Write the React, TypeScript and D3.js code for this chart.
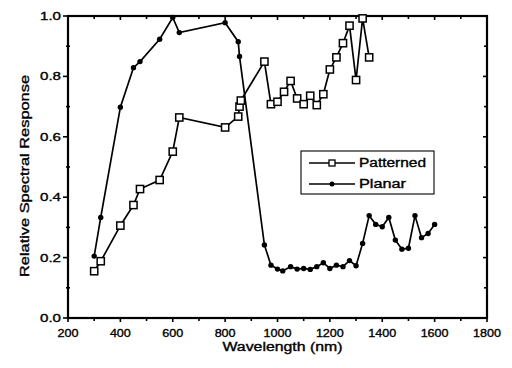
import React from "react";
import * as d3 from "d3";

const planarX = [300, 325, 400, 450, 475, 550, 600, 625, 800, 850, 855, 950, 975, 1000, 1020, 1050, 1075, 1100, 1125, 1150, 1175, 1200, 1225, 1250, 1275, 1300, 1325, 1350, 1375, 1400, 1425, 1450, 1475, 1500, 1525, 1550, 1575, 1600];
const planarY = [0.205, 0.333, 0.698, 0.829, 0.849, 0.923, 0.995, 0.945, 0.978, 0.915, 0.866, 0.242, 0.175, 0.162, 0.156, 0.17, 0.162, 0.164, 0.161, 0.17, 0.183, 0.164, 0.175, 0.17, 0.19, 0.173, 0.247, 0.339, 0.31, 0.302, 0.333, 0.258, 0.228, 0.231, 0.339, 0.266, 0.28, 0.31];

const patternedX = [300, 325, 400, 450, 475, 550, 600, 625, 800, 850, 855, 860, 950, 975, 1000, 1025, 1050, 1075, 1100, 1125, 1150, 1175, 1200, 1225, 1250, 1275, 1300, 1325, 1350];
const patternedY = [0.155, 0.188, 0.306, 0.374, 0.427, 0.457, 0.551, 0.664, 0.631, 0.667, 0.7, 0.72, 0.849, 0.708, 0.716, 0.749, 0.785, 0.727, 0.708, 0.736, 0.705, 0.741, 0.823, 0.863, 0.91, 0.968, 0.788, 0.992, 0.863];

const xTicks = [200, 400, 600, 800, 1000, 1200, 1400, 1600, 1800];
const xMinor = [300, 500, 700, 900, 1100, 1300, 1500, 1700];
const yTicks = [0.0, 0.2, 0.4, 0.6, 0.8, 1.0];
const yMinor = [0.1, 0.3, 0.5, 0.7, 0.9];

const seriesNames = ["Patterned", "Planar"];

const FONT = "'Liberation Sans', Arial, sans-serif";
const TS = { stroke: "#000", strokeWidth: 0.35 };

export default function App() {
  const W = 512, H = 368;
  const L = 68, R = 487, T = 16, B = 318;
  const x = d3.scaleLinear().domain([200, 1800]).range([L, R]);
  const y = d3.scaleLinear().domain([0, 1]).range([B, T]);
  const line = d3.line<[number, number]>().x(d => x(d[0])).y(d => y(d[1]));
  const planar: [number, number][] = planarX.map((v, i) => [v, planarY[i]]);
  const patterned: [number, number][] = patternedX.map((v, i) => [v, patternedY[i]]);
  const fmtY = (v: number) => v.toFixed(1);

  return (
    <svg width={W} height={H} style={{ position: "absolute", left: 0, top: 0, background: "#fff" }}>
      <rect x={0} y={0} width={W} height={H} fill="#fff" />
      <rect x={L} y={T} width={R - L} height={B - T} fill="none" stroke="#000" strokeWidth={2.2} />
      {xTicks.map(t => (
        <g key={"xt" + t}>
          <line x1={x(t)} x2={x(t)} y1={B} y2={B + 4} stroke="#000" strokeWidth={1.6} />
          <line x1={x(t)} x2={x(t)} y1={T} y2={T + 4} stroke="#000" strokeWidth={1.6} />
          <text x={x(t)} y={B + 19} textAnchor="middle" fontFamily={FONT} fontSize={11.5} textLength={t >= 1000 ? 28 : 21} lengthAdjust="spacingAndGlyphs" fill="#000" {...TS}>{t}</text>
        </g>
      ))}
      {xMinor.map(t => (
        <g key={"xm" + t}>
          <line x1={x(t)} x2={x(t)} y1={B} y2={B + 3} stroke="#000" strokeWidth={1.6} />
          <line x1={x(t)} x2={x(t)} y1={T} y2={T + 3} stroke="#000" strokeWidth={1.6} />
        </g>
      ))}
      {yTicks.map(t => (
        <g key={"yt" + t}>
          <line x1={L - 5} x2={L} y1={y(t)} y2={y(t)} stroke="#000" strokeWidth={1.6} />
          <line x1={R - 4} x2={R} y1={y(t)} y2={y(t)} stroke="#000" strokeWidth={1.6} />
          <text x={L - 7} y={y(t) + 4} textAnchor="end" fontFamily={FONT} fontSize={11.5} textLength={21} lengthAdjust="spacingAndGlyphs" fill="#000" {...TS}>{fmtY(t)}</text>
        </g>
      ))}
      {yMinor.map(t => (
        <g key={"ym" + t}>
          <line x1={L - 2} x2={L + 2} y1={y(t)} y2={y(t)} stroke="#000" strokeWidth={1.6} />
          <line x1={R - 3} x2={R} y1={y(t)} y2={y(t)} stroke="#000" strokeWidth={1.6} />
        </g>
      ))}
      <text x={(L + R) / 2 + 5} y={351} textAnchor="middle" fontFamily={FONT} fontSize={12} textLength={120} lengthAdjust="spacingAndGlyphs" fill="#000" {...TS}>Wavelength (nm)</text>
      <text transform={`translate(29,176) rotate(-90)`} textAnchor="middle" fontFamily={FONT} fontSize={12} textLength={202} lengthAdjust="spacingAndGlyphs" fill="#000" {...TS}>Relative Spectral Response</text>
      <path d={line(planar) || ""} fill="none" stroke="#000" strokeWidth={1.7} />
      <path d={line(patterned) || ""} fill="none" stroke="#000" strokeWidth={1.7} />
      {planar.map((d, i) => (
        <circle key={"pc" + i} cx={x(d[0])} cy={y(d[1])} r={2.7} fill="#000" />
      ))}
      {patterned.map((d, i) => (
        <rect key={"ps" + i} x={x(d[0]) - 3.6} y={y(d[1]) - 3.6} width={7.2} height={7.2} fill="#fff" stroke="#000" strokeWidth={1.5} />
      ))}
      <rect x={301} y={151} width={133} height={43} fill="#fff" stroke="#000" strokeWidth={1.1} />
      <line x1={309} x2={355} y1={163} y2={163} stroke="#000" strokeWidth={1.3} />
      <rect x={329} y={160} width={6} height={6} fill="#fff" stroke="#000" strokeWidth={1.3} />
      <text x={359} y={167} fontFamily={FONT} fontSize={12} textLength={67} lengthAdjust="spacingAndGlyphs" fill="#000" {...TS}>{seriesNames[0]}</text>
      <line x1={309} x2={355} y1={184} y2={184} stroke="#000" strokeWidth={1.3} />
      <circle cx={332} cy={184} r={2.5} fill="#000" />
      <text x={359} y={188} fontFamily={FONT} fontSize={12} textLength={47} lengthAdjust="spacingAndGlyphs" fill="#000" {...TS}>{seriesNames[1]}</text>
    </svg>
  );
}
